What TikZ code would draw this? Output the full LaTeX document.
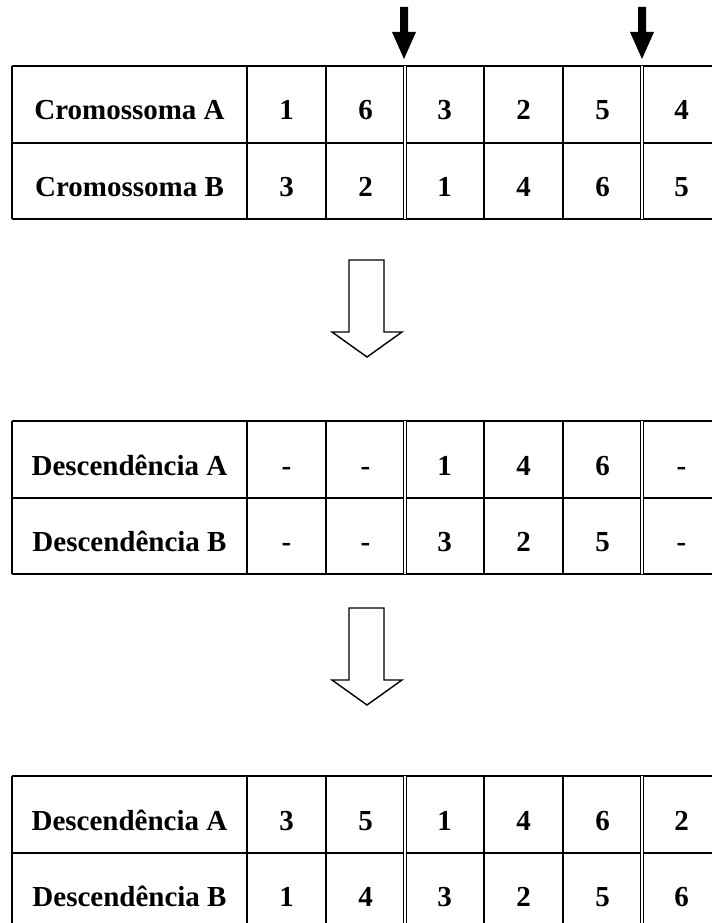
\documentclass[tikz,border=0pt]{standalone}
\usepackage{fontspec}
\setmainfont{Liberation Serif}
\begin{document}
\begin{tikzpicture}[x=1pt,y=-1pt,
    cell/.style={font=\fontsize{29}{29}\selectfont\bfseries,inner sep=0pt,anchor=base},
    rule/.style={line width=2pt},
    cutrule/.style={double,double distance=2pt,line width=1.1pt},
    hollow/.style={line width=1.4pt,fill=white,line join=miter}]
    \useasboundingbox (0,0) rectangle (712,923);
    %% Cut points
    \fill (400,7) -- (408,7) -- (408,32) -- (416,32) -- (404,59) -- (392,32) -- (400,32) -- cycle;
    \fill (638,7) -- (646,7) -- (646,32) -- (654,32) -- (642,59) -- (630,32) -- (638,32) -- cycle;
    %% Grids
    \foreach \top in {66,421,776} {
        \draw[rule] (12,\top) -- (712,\top);
        \draw[rule] (12,\top+76.5) -- (712,\top+76.5);
        \draw[rule] (12,\top+153) -- (712,\top+153);
        \foreach \x in {12,247,326,484,563}
            \draw[rule] (\x,\top) -- (\x,\top+153);
        \foreach \x in {405,642}
            \draw[cutrule] (\x,\top) -- (\x,\top+153);
    }
    %% Parents
    \node[cell] (pa) at (129.5,120) {Cromossoma A};
    \node[cell] (pb) at (129.5,196.5) {Cromossoma B};
    \foreach \v [count=\i] in {1,6,3,2,5,4}
        \node[cell] (pa\i) at ({247+79*(\i-0.5)},120) {\v};
    \foreach \v [count=\i] in {3,2,1,4,6,5}
        \node[cell] (pb\i) at ({247+79*(\i-0.5)},196.5) {\v};
    %% Step arrows
    \draw[hollow] (349,260) -- (384,260) -- (384,332) -- (402,332) -- (367,357) -- (332,332) -- (349,332) -- cycle;
    \draw[hollow] (349,608) -- (384,608) -- (384,680) -- (402,680) -- (367,705) -- (332,680) -- (349,680) -- cycle;
    %% Offspring, middle part swapped
    \node[cell] (ma) at (129.5,475) {Descendência A};
    \node[cell] (mb) at (129.5,551.5) {Descendência B};
    \foreach \v [count=\i] in {-,-,1,4,6,-}
        \node[cell] (ma\i) at ({247+79*(\i-0.5)},475) {\v};
    \foreach \v [count=\i] in {-,-,3,2,5,-}
        \node[cell] (mb\i) at ({247+79*(\i-0.5)},551.5) {\v};
    %% Offspring, completed
    \node[cell] (oa) at (129.5,830) {Descendência A};
    \node[cell] (ob) at (129.5,906.5) {Descendência B};
    \foreach \v [count=\i] in {3,5,1,4,6,2}
        \node[cell] (oa\i) at ({247+79*(\i-0.5)},830) {\v};
    \foreach \v [count=\i] in {1,4,3,2,5,6}
        \node[cell] (ob\i) at ({247+79*(\i-0.5)},906.5) {\v};
\end{tikzpicture}
\end{document}
